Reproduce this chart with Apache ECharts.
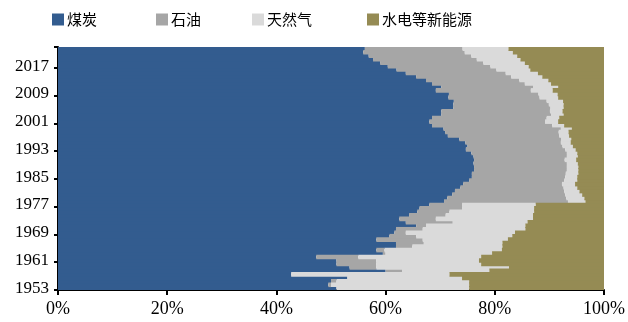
<!DOCTYPE html>
<html>
<head>
<meta charset="utf-8">
<script src="https://cdn.jsdelivr.net/npm/echarts@6/dist/echarts.min.js"></script>
<style>
  html, body { margin: 0; padding: 0; background: #fff; }
  #chart { width: 628px; height: 322px; }
</style>
</head>
<body>
<div id="chart"></div>
<script>
// Energy consumption structure by year (share, %)
const years = [];
for (let y = 1953; y <= 2022; y++) years.push(String(y));

const seriesNames = ['煤炭', '石油', '天然气', '水电等新能源'];

const coal = [
  51.0, 49.5, 50.0, 53.0, 42.7, 60.0, 53.4, 51.0, 51.0, 47.3,
  59.5, 58.3, 61.9, 61.9, 58.3, 60.7, 61.6, 61.9, 65.6, 63.7,
  62.5, 64.3, 65.8, 66.2, 68.0,
  70.7, 71.3, 72.2, 72.7, 73.7, 74.2, 75.3, 75.8, 75.8, 76.2,
  76.2, 76.1, 76.2, 76.1, 75.7, 74.7, 75.0, 74.6, 73.5, 71.4,
  70.9, 70.6, 68.5, 68.0, 68.5, 70.2, 70.2, 72.4, 72.4, 72.5,
  71.5, 71.6, 69.2, 70.2, 68.5, 67.4, 65.6, 63.7, 62.0, 60.4,
  59.0, 57.7, 56.9, 55.9, 56.2
];
const oil = [
  0.0, 0.5, 1.0, 0.0, 0.0, 3.0, 4.9, 7.3, 7.3, 7.7,
  0.5, 1.5, 3.0, 5.1, 8.5, 4.9, 2.1, 4.9, 1.8, 8.6,
  6.7, 6.7, 5.9, 7.8, 6.0,
  22.7, 21.8, 20.7, 20.0, 18.9, 18.1, 17.4, 17.1, 17.2, 17.0,
  17.0, 17.1, 16.6, 17.1, 17.5, 18.2, 17.4, 17.5, 18.7, 20.4,
  20.8, 21.5, 22.0, 21.2, 21.0, 20.1, 19.9, 17.8, 17.5, 17.0,
  16.7, 16.4, 17.4, 16.8, 17.0, 17.1, 17.4, 18.3, 18.3, 18.8,
  18.9, 19.0, 18.8, 18.6, 17.9
];
const gas = [
  24.3, 25.3, 24.3, 21.0, 29.0, 16.0, 24.3, 19.2, 18.8, 22.5,
  19.5, 21.5, 16.5, 14.4, 15.6, 17.6, 20.0, 18.8, 18.2, 13.7,
  17.8, 16.0, 15.5, 13.2, 13.5,
  3.2, 3.3, 3.1, 2.8, 2.5, 2.4, 2.4, 2.2, 2.3, 2.1,
  2.1, 2.0, 2.1, 2.0, 1.9, 1.9, 1.9, 1.8, 1.8, 1.8,
  1.8, 2.0, 2.2, 2.4, 2.3, 2.3, 2.3, 2.4, 2.7, 3.0,
  3.4, 3.5, 4.0, 4.6, 4.8, 5.3, 5.7, 5.9, 6.2, 7.0,
  7.6, 8.0, 8.4, 8.8, 8.4
];
const hydro = [
  24.7, 24.7, 24.7, 26.0, 28.3, 21.0, 17.4, 22.5, 22.9, 22.5,
  20.5, 18.7, 18.6, 18.6, 17.6, 16.8, 16.3, 14.4, 14.4, 14.0,
  13.0, 13.0, 12.8, 12.8, 12.5,
  3.4, 3.6, 4.0, 4.5, 4.9, 5.3, 4.9, 4.9, 4.7, 4.7,
  4.7, 4.8, 5.1, 4.8, 4.9, 5.2, 5.7, 6.1, 6.0, 6.4,
  6.5, 5.9, 7.3, 8.4, 8.2, 7.4, 7.6, 7.4, 7.4, 7.5,
  8.4, 8.5, 9.4, 8.4, 9.7, 10.2, 11.3, 12.1, 13.5, 13.8,
  14.5, 15.3, 15.9, 16.7, 17.5
];

const xTicks = [0, 20, 40, 60, 80, 100];

const colors = ['#335C8F', '#A6A6A6', '#DADADA', '#958B54'];
const seriesData = [coal, oil, gas, hydro];
const legendLeft = [52, 156, 252, 367];

const serifFont = '"Liberation Serif", "DejaVu Serif", serif';
const cjkFont = '"Noto Sans CJK SC", sans-serif';

const chart = echarts.init(document.getElementById('chart'), null, { renderer: 'canvas' });

chart.setOption({
  animation: false,
  color: colors,
  legend: seriesNames.map((name, i) => ({
    data: [name],
    left: legendLeft[i],
    top: 12,
    icon: 'rect',
    itemWidth: 12,
    itemHeight: 12,
    itemGap: 4,
    padding: 0,
    selectedMode: false,
    textStyle: { fontFamily: cjkFont, fontSize: 15, color: '#000', padding: [0, 0, 0, -2] }
  })),
  grid: { left: 58, right: 23, top: 47, bottom: 32, containLabel: false },
  xAxis: {
    type: 'value',
    min: xTicks[0],
    max: xTicks[xTicks.length - 1],
    interval: 20,
    axisLine: { show: true, lineStyle: { color: '#000', width: 2 } },
    axisTick: { show: true, length: 5, lineStyle: { color: '#000', width: 2 } },
    splitLine: { show: false },
    axisLabel: {
      formatter: '{value}%',
      fontFamily: serifFont,
      fontSize: 18,
      color: '#000',
      margin: 10
    }
  },
  yAxis: {
    type: 'category',
    data: years,
    boundaryGap: true,
    axisLine: { show: true, lineStyle: { color: '#000', width: 2 } },
    axisTick: { show: true, interval: 7, length: 4, lineStyle: { color: '#000', width: 2 } },
    axisLabel: {
      interval: 7,
      fontFamily: serifFont,
      fontSize: 17,
      color: '#000',
      margin: 9
    },
    splitLine: { show: false }
  },
  series: seriesNames.map((name, i) => ({
    name: name,
    type: 'bar',
    stack: 'share',
    data: seriesData[i],
    // slightly wider than the band so neighbouring rows close up without seams
    barWidth: 4.6,
    silent: true,
    itemStyle: { color: colors[i] }
  }))
});
</script>
</body>
</html>
